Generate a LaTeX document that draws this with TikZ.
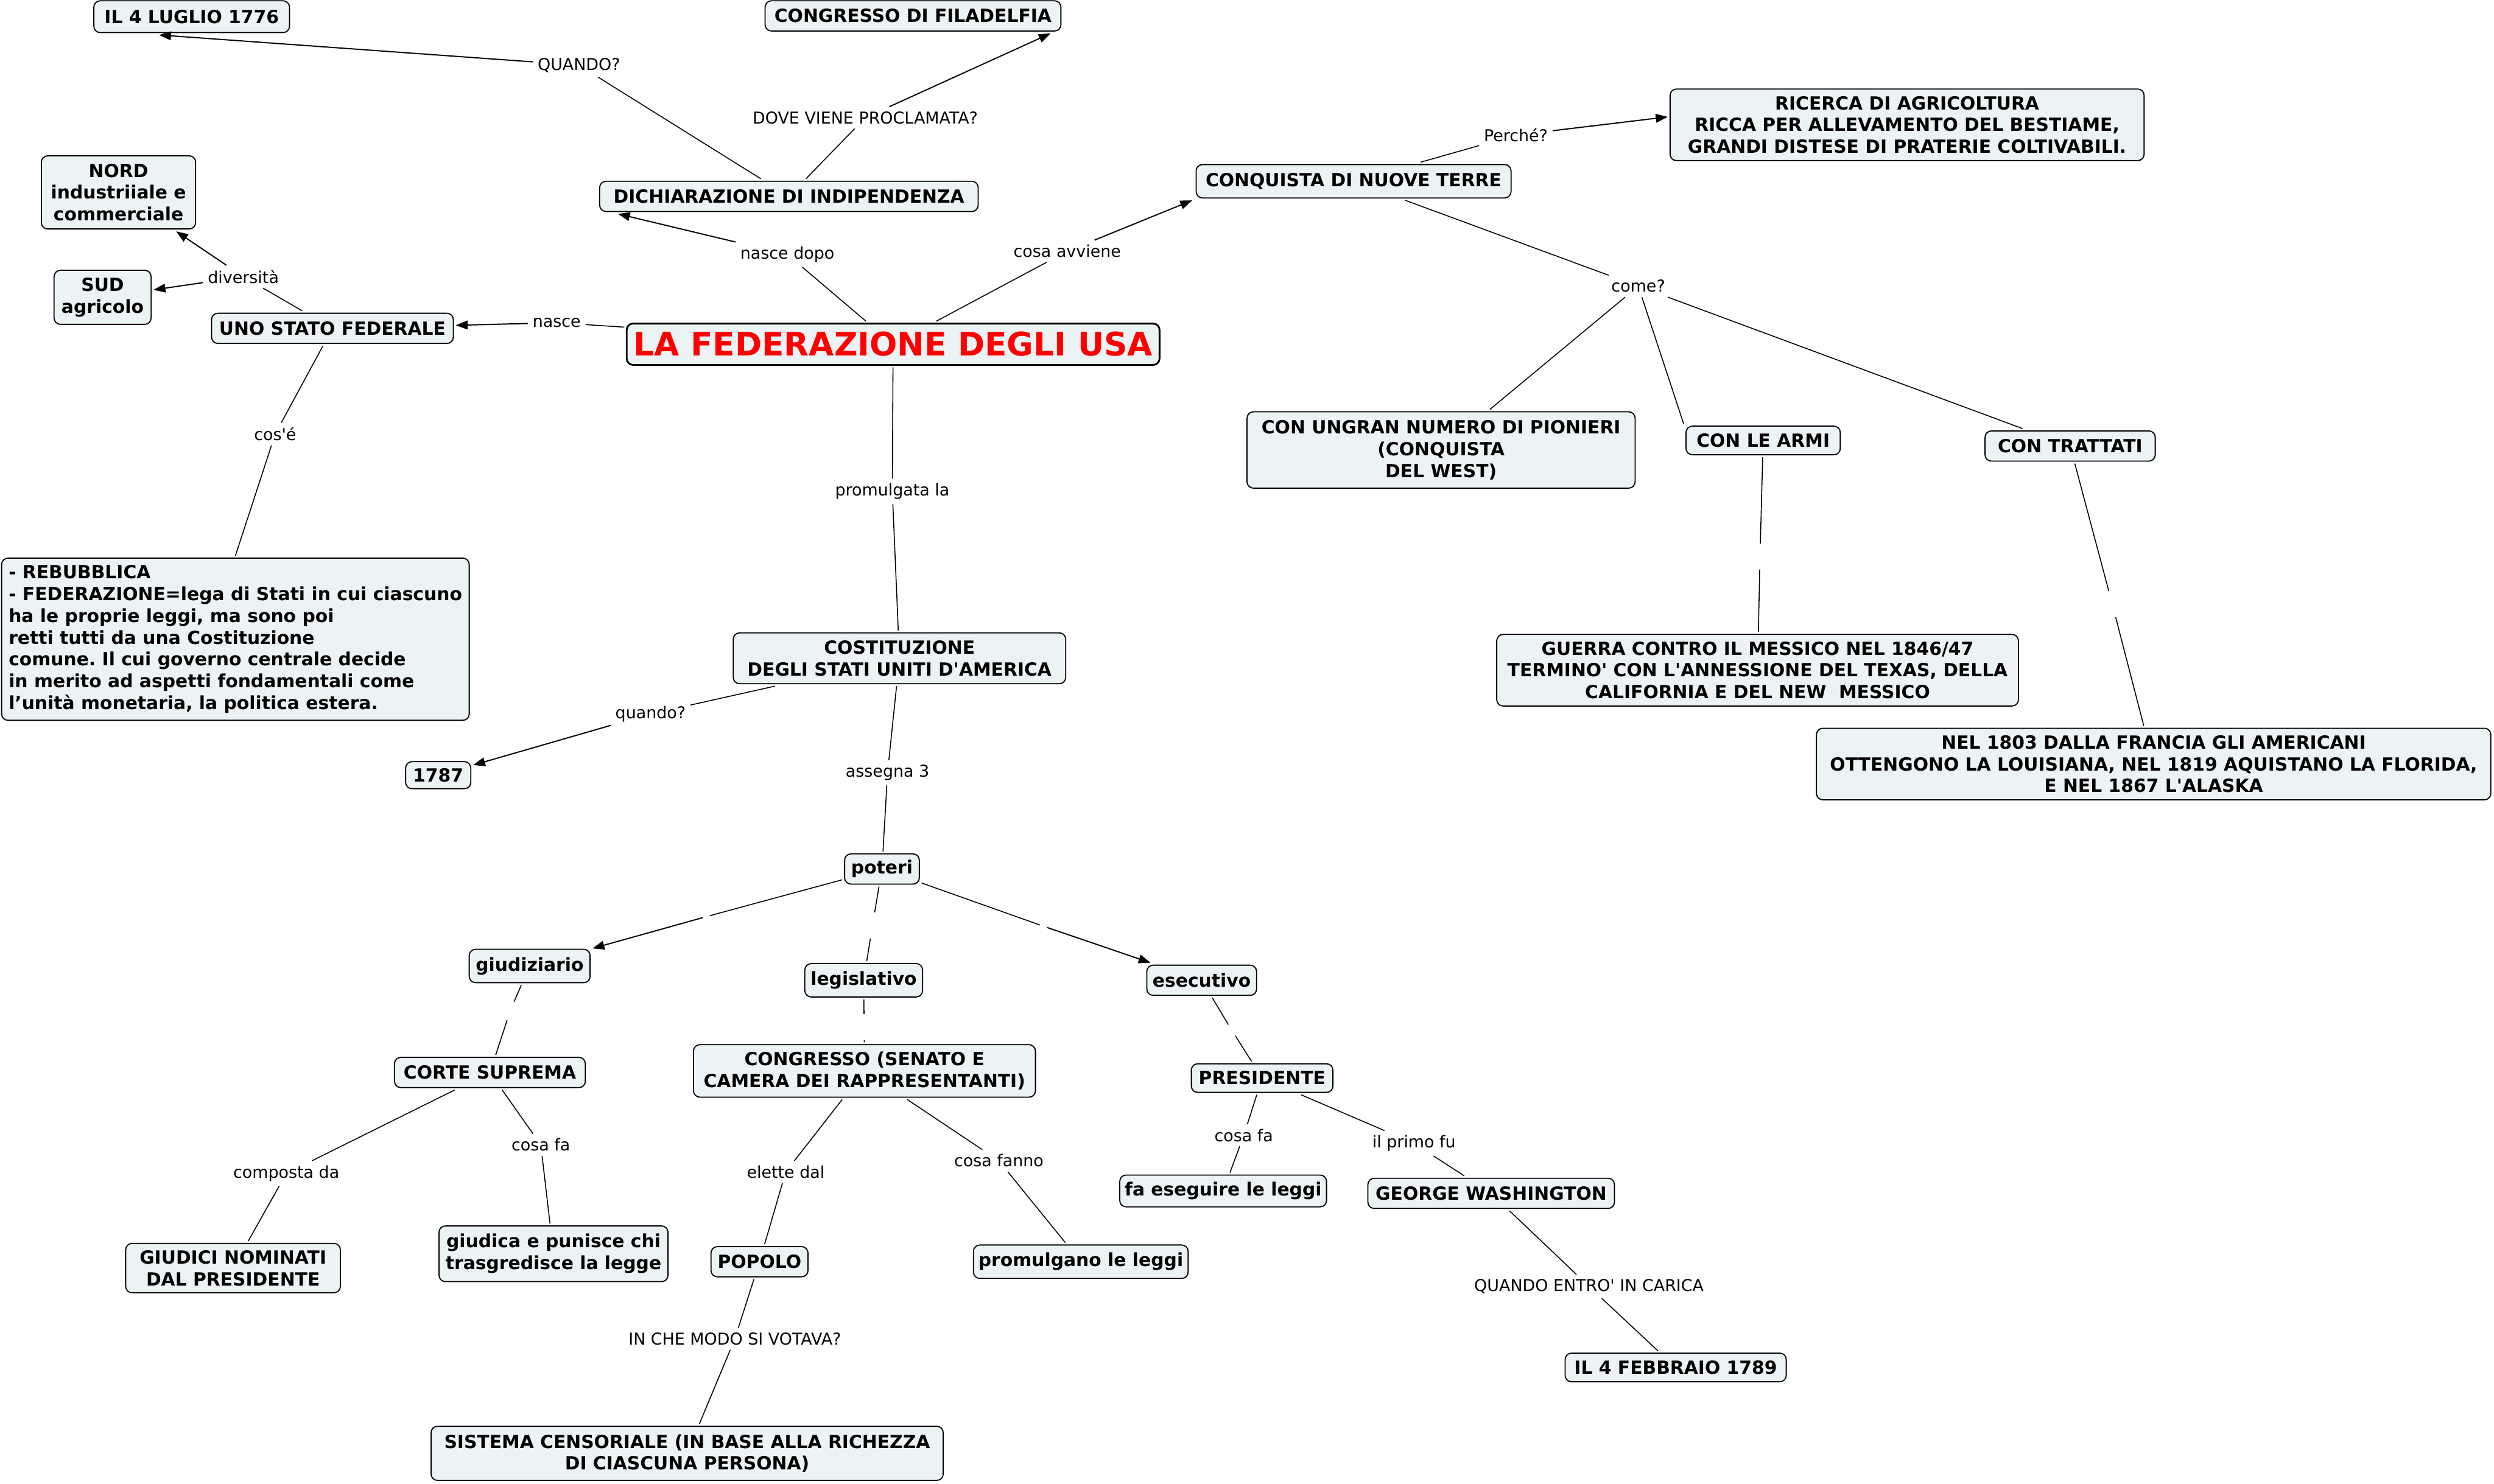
\documentclass[tikz,border=0pt]{standalone}
\usepackage{fontspec}
\setmainfont{DejaVu Sans}
\newfontfamily\dv{DejaVu Sans}
\usetikzlibrary{arrows.meta}
\definecolor{boxfill}{RGB}{236,243,244}
\definecolor{titlered}{RGB}{255,0,0}
\frenchspacing
\begin{document}
\begin{tikzpicture}[x=1pt,y=-1pt,
  box/.style={draw=black, line width=0.7pt, fill=boxfill, rounded corners=4pt,
    font=\dv\fontsize{11.4}{13.7}\selectfont\bfseries, align=center, inner sep=2pt, outer sep=1.5pt},
  lbl/.style={font=\dv\fontsize{10.3}{12}\selectfont, inner sep=2pt, outer sep=1pt},
  gapnode/.style={inner sep=0pt, minimum width=4pt, minimum height=16pt},
  con/.style={line width=0.6pt},
  arr/.style={line width=0.75pt, -{Triangle[length=7.5pt,width=5.5pt]}}]
\useasboundingbox (0,0) rectangle (1568,933);
\fill[white] (0,0) rectangle (1568,933);

% ---------- concept nodes ----------
\node[box, minimum width=123pt, minimum height=20pt] (luglio) at (120.5,10.5) {IL 4 LUGLIO 1776};
\node[box, minimum width=186pt, minimum height=19pt] (filad) at (574,10) {CONGRESSO DI FILADELFIA};
\node[box, minimum width=238pt, minimum height=19pt] (dich) at (496,123.5) {DICHIARAZIONE DI INDIPENDENZA};
\node[box, minimum width=97pt, minimum height=46pt] (nord) at (74.5,121) {NORD\\industriiale e\\commerciale};
\node[box, minimum width=61pt, minimum height=34pt] (sud) at (64.5,187) {SUD\\agricolo};
\node[box, minimum width=152pt, minimum height=19pt] (uno) at (209,206.5) {UNO STATO FEDERALE};
\node[box, line width=1.1pt, minimum width=335pt, minimum height=26pt,
      font=\dv\fontsize{20.4}{24}\selectfont\bfseries, text=titlered] (fed) at (561.5,216.5) {LA FEDERAZIONE DEGLI USA};
\node[box, minimum width=198pt, minimum height=21pt] (conq) at (851,114) {CONQUISTA DI NUOVE TERRE};
\node[box, minimum width=298pt, minimum height=45pt] (ricerca) at (1199,78.5) {RICERCA DI AGRICOLTURA\\RICCA PER ALLEVAMENTO DEL BESTIAME,\\GRANDI DISTESE DI PRATERIE COLTIVABILI.};
\node[box, minimum width=244pt, minimum height=48pt] (pion) at (906,283) {CON UNGRAN NUMERO DI PIONIERI\\(CONQUISTA\\DEL WEST)};
\node[box, minimum width=97pt, minimum height=18pt] (armi) at (1108.5,277) {CON LE ARMI};
\node[box, minimum width=107pt, minimum height=19pt] (tratt) at (1301.5,280.5) {CON TRATTATI};
\node[box, minimum width=328pt, minimum height=45pt] (guerra) at (1105,421.5) {GUERRA CONTRO IL MESSICO NEL 1846/47\\TERMINO' CON L'ANNESSIONE DEL TEXAS, DELLA\\CALIFORNIA E DEL NEW\ \ MESSICO};
\node[box, minimum width=424pt, minimum height=45pt] (nel1803) at (1354,480.5) {NEL 1803 DALLA FRANCIA GLI AMERICANI\\OTTENGONO LA LOUISIANA, NEL 1819 AQUISTANO LA FLORIDA,\\E NEL 1867 L'ALASKA};
\node[box, minimum width=294pt, minimum height=102pt, align=left] (rep) at (148,402) {- REBUBBLICA\\- FEDERAZIONE=lega di Stati in cui ciascuno\\ha le proprie leggi, ma sono poi\\retti tutti da una Costituzione\\comune. Il cui governo centrale decide\\in merito ad aspetti fondamentali come\\l’unità monetaria, la politica estera.};
\node[box, minimum width=209pt, minimum height=32pt] (cost) at (565.5,414) {COSTITUZIONE\\DEGLI STATI UNITI D'AMERICA};
\node[box, minimum width=41pt, minimum height=17pt] (anno) at (275.5,487.5) {1787};
\node[box, minimum width=47pt, minimum height=19pt] (poteri) at (554.5,546.5) {poteri};
\node[box, minimum width=76pt, minimum height=21pt] (giud) at (333,607.5) {giudiziario};
\node[box, minimum width=74pt, minimum height=21pt] (leg) at (543,616.5) {legislativo};
\node[box, minimum width=69pt, minimum height=19pt] (esec) at (755.5,616.5) {esecutivo};
\node[box, minimum width=120pt, minimum height=19pt] (corte) at (308,674.5) {CORTE SUPREMA};
\node[box, minimum width=215pt, minimum height=33pt] (congr) at (543.5,673.5) {CONGRESSO (SENATO E\\CAMERA DEI RAPPRESENTANTI)};
\node[box, minimum width=89pt, minimum height=18pt] (pres) at (793.5,678) {PRESIDENTE};
\node[box, minimum width=135pt, minimum height=31pt] (giudici) at (146.5,797.5) {GIUDICI NOMINATI\\DAL PRESIDENTE};
\node[box, minimum width=144pt, minimum height=35pt] (giudica) at (348,788.5) {giudica e punisce chi\\trasgredisce la legge};
\node[box, minimum width=61pt, minimum height=19pt] (popolo) at (477.5,793.5) {POPOLO};
\node[box, minimum width=135pt, minimum height=21pt] (promul) at (679.5,793.5) {promulgano le leggi};
\node[box, minimum width=130pt, minimum height=20pt] (faes) at (769,749) {fa eseguire le leggi};
\node[box, minimum width=155pt, minimum height=19pt] (george) at (937.5,750.5) {GEORGE WASHINGTON};
\node[box, minimum width=139pt, minimum height=18pt] (febbr) at (1053.5,860) {IL 4 FEBBRAIO 1789};
\node[box, minimum width=322pt, minimum height=34pt] (sistema) at (432,914) {SISTEMA CENSORIALE (IN BASE ALLA RICHEZZA\\DI CIASCUNA PERSONA)};

% ---------- link labels ----------
\node[lbl] (lQuando) at (364,41) {QUANDO?};
\node[lbl] (lDove) at (544,74) {DOVE VIENE PROCLAMATA?};
\node[lbl] (lNasceDopo) at (495,160) {nasce dopo};
\node[lbl] (lCosaAvv) at (671,158) {cosa avviene};
\node[lbl] (lNasce) at (350,203) {nasce};
\node[lbl] (lDiv) at (153,174) {diversità};
\node[lbl] (lCose) at (173,273) {cos'é};
\node[lbl] (lPerche) at (953,85) {Perché?};
\node[lbl] (lCome) at (1030,180) {come?};
\node[lbl] (lPromul) at (561,309) {promulgata la};
\node[lbl] (lQuando2) at (409,449) {quando?};
\node[lbl] (lAssegna) at (558,486) {assegna 3};
\node[lbl] (lComposta) at (180,738) {composta da};
\node[lbl] (lCosaFa1) at (340,720) {cosa fa};
\node[lbl] (lElette) at (494,737) {elette dal};
\node[lbl] (lCosaFanno) at (628,730) {cosa fanno};
\node[lbl] (lCosaFa2) at (782,714) {cosa fa};
\node[lbl] (lPrimo) at (889,719) {il primo fu};
\node[lbl] (lQuandoEntro) at (999,809) {QUANDO ENTRO' IN CARICA};
\node[lbl] (lModo) at (462,842) {IN CHE MODO SI VOTAVA?};
% empty labels (gaps)
\node[gapnode] (gArmi) at (1106.5,350) {};
\node[gapnode] (gTratt) at (1328,380) {};
\node[gapnode] (gGiud) at (444,576.5) {};
\node[gapnode] (gLeg) at (548.5,582) {};
\node[gapnode] (gEsec) at (656,582.5) {};
\node[gapnode] (gCorte) at (321,635) {};
\node[gapnode] (gCongr) at (543.3,646) {};
\node[gapnode] (gPres) at (774.5,648) {};

% ---------- connectors ----------
\draw[con] (dich) -- (lQuando);   \draw[arr] (lQuando) -- ([xshift=-20.5pt]luglio.south);
\draw[con] (dich) -- (lDove);     \draw[arr] (lDove) -- ([xshift=-8pt]filad.south east);
\draw[con] (fed) -- (lNasceDopo); \draw[arr] (lNasceDopo) -- ([xshift=13pt]dich.south west);
\draw[con] (fed) -- (lCosaAvv);   \draw[arr] (lCosaAvv) -- ([xshift=-1pt]conq.south west);
\draw[con] (fed) -- (lNasce);     \draw[arr] (lNasce) -- (uno);
\draw[con] (uno) -- (lDiv);       \draw[arr] (lDiv) -- (nord); \draw[arr] (lDiv) -- (sud);
\draw[con] (uno) -- (lCose) -- (rep.north);
\draw[con] (conq) -- (lPerche);   \draw[arr] (lPerche) -- ([yshift=5pt]ricerca.west);
\draw[con] (conq) -- (lCome);
\draw[con] (lCome) -- (pion);
\draw[con] (lCome) -- (armi.north west);
\draw[con] (lCome) -- ([xshift=25pt]tratt.north west);
\draw[con] (armi) -- (gArmi) -- (guerra);
\draw[con] (tratt) -- (gTratt) -- (nel1803);
\draw[con] (fed) -- (lPromul) -- (cost);
\draw[con] (cost) -- (lQuando2);  \draw[arr] (lQuando2) -- (anno);
\draw[con] (cost) -- (lAssegna) -- (poteri);
\draw[con] (poteri) -- (gGiud);   \draw[arr] (gGiud) -- (giud);
\draw[con] (poteri) -- (gLeg) -- (leg);
\draw[con] (poteri) -- (gEsec);   \draw[arr] (gEsec) -- (esec);
\draw[con] (giud) -- (gCorte) -- (corte);
\draw[con] (leg) -- (gCongr) -- (congr);
\draw[con] (esec) -- (gPres) -- (pres);
\draw[con] (corte) -- (lComposta) -- (giudici);
\draw[con] (corte) -- (lCosaFa1) -- (giudica);
\draw[con] (congr) -- (lElette) -- (popolo);
\draw[con] (congr) -- (lCosaFanno) -- (promul);
\draw[con] (pres) -- (lCosaFa2) -- (faes);
\draw[con] (pres) -- (lPrimo) -- (george);
\draw[con] (george) -- (lQuandoEntro) -- (febbr);
\draw[con] (popolo) -- (lModo) -- (sistema);
\end{tikzpicture}
\end{document}
